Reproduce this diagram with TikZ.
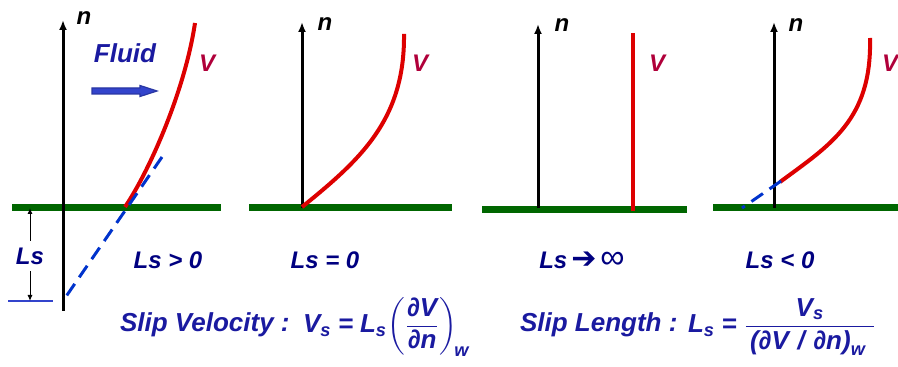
\documentclass[tikz,border=0pt]{standalone}
\usepackage{amsmath}
\usepackage{fontspec}
\setmainfont{Liberation Sans}
\newfontfamily\arrowfont{DejaVu Sans}
\usepackage{tikz}
\usetikzlibrary{arrows.meta}
\definecolor{wallgreen}{HTML}{006600}
\definecolor{profred}{HTML}{DD0000}
\definecolor{vcolor}{HTML}{B0003A}
\definecolor{slipblue}{HTML}{0033CC}
\definecolor{labelnavy}{HTML}{000080}
\definecolor{textblue}{HTML}{1A1AA0}
\definecolor{fluidfill}{HTML}{3344CC}

\begin{document}
\begin{tikzpicture}[x=0.5pt,y=-0.5pt,
    lbl/.style={font=\fontsize{12}{14}\selectfont\bfseries\itshape},
    bigtext/.style={font=\fontsize{13}{15}\selectfont\bfseries\itshape,textblue,anchor=west},
    naxis/.style={-{Latex[length=5pt,width=4pt]},line width=1.5pt},
    wall/.style={wallgreen,line width=3.5pt},
    profile/.style={profred,line width=2pt},
    slipline/.style={slipblue,line width=1.5pt,dash pattern=on 7pt off 4pt},
    dimarrow/.style={-{Latex[length=3pt,width=2.5pt]},line width=0.5pt}]
    \useasboundingbox (0,0) rectangle (898,367);

    % panel 1: Ls > 0
    \coordinate (w1a) at (12,208);
    \coordinate (w1b) at (221,208);
    \draw[wall] (w1a) -- (w1b);
    \coordinate (a1) at (63,311);
    \coordinate (t1) at (63,20);
    \draw[naxis] (a1) -- (t1);
    \node[lbl] (n1) at (84,18) {n};
    \draw[profile] (125,207) .. controls (150,170) and (185,90) .. (195,23);
    \node[lbl,vcolor] (v1) at (207,63) {V};
    \coordinate (s1a) at (65,298);
    \coordinate (s1b) at (162,157);
    \draw[slipline] (s1b) -- (s1a);
    \node[lbl,textblue,font=\fontsize{13}{15}\selectfont\bfseries\itshape] (fluid) at (125,53) {Fluid};
    \draw[fluidfill!80!black,line width=0.6pt,fill=fluidfill]
      (92,88) -- (140,88) -- (140,85.5) -- (157,91) -- (140,96.5) -- (140,94) -- (92,94) -- cycle;
    \node[lbl,labelnavy] (ls1) at (30,256) {Ls};
    \coordinate (lsbase) at (29,301);
    \draw[fluidfill,line width=0.6pt] (8,301) -- (53,301);
    \draw[dimarrow] (ls1.north) -- (ls1.north |- w1a);
    \draw[dimarrow] (ls1.south) -- (ls1.south |- lsbase);
    \node[lbl,labelnavy] (c1) at (168,260) {Ls > 0};

    % panel 2: Ls = 0
    \coordinate (w2a) at (249,208);
    \coordinate (w2b) at (452,208);
    \draw[wall] (w2a) -- (w2b);
    \coordinate (a2) at (302,208);
    \coordinate (t2) at (302,22);
    \draw[naxis] (a2) -- (t2);
    \node[lbl] (n2) at (325,24) {n};
    \draw[profile] (302,207) .. controls (360,160) and (405,120) .. (404,34);
    \node[lbl,vcolor] (v2) at (420,63) {V};
    \node[lbl,labelnavy] (c2) at (325,260) {Ls = 0};

    % panel 3: Ls -> infinity
    \coordinate (w3a) at (482,210);
    \coordinate (w3b) at (687,210);
    \draw[wall] (w3a) -- (w3b);
    \coordinate (a3) at (538,208);
    \coordinate (t3) at (538,24);
    \draw[naxis] (a3) -- (t3);
    \node[lbl] (n3) at (562,25) {n};
    \coordinate (p3a) at (633,211);
    \coordinate (p3b) at (633,33);
    \draw[profile] (p3a) -- (p3b);
    \node[lbl,vcolor] (v3) at (657,63) {V};
    \node[lbl,labelnavy] (c3) at (582,260) {Ls\,{\arrowfont\bfseries\upshape\fontsize{15}{15}\selectfont ➔}\,{\upshape\mdseries\fontsize{17}{15}\selectfont ∞}};

    % panel 4: Ls < 0
    \coordinate (w4a) at (713,208);
    \coordinate (w4b) at (898,208);
    \draw[wall] (w4a) -- (w4b);
    \coordinate (a4) at (774,208);
    \coordinate (t4) at (774,22);
    \draw[naxis] (a4) -- (t4);
    \node[lbl] (n4) at (796,25) {n};
    \draw[profile] (780,182) .. controls (830,145) and (872,120) .. (870,38);
    \coordinate (s4a) at (742,208);
    \coordinate (s4b) at (781,181);
    \draw[slipline] (s4b) -- (s4a);
    \node[lbl,vcolor] (v4) at (890,63) {V};
    \node[lbl,labelnavy] (c4) at (780,260) {Ls < 0};

    % definitions
    \node[bigtext] (slipv) at (113,325) {Slip Velocity :};
    \node[bigtext] (vsform) at (296,327) {$\text{V}_{\text{s}} \mathrel{\text{=}} \text{L}_{\text{s}}\biggl(\dfrac{\text{∂V}}{\text{∂n}}\biggr)_{\!\text{w}}$};
    \node[bigtext] (slipl) at (513,325) {Slip Length :};
    \node[bigtext] (lsform) at (681,327) {$\text{L}_{\text{s}} \mathrel{\text{=}} \dfrac{\text{V}_{\text{s}}}{\,\text{(∂V\,\,/\,\,∂n)}_{\text{w}}\,\,}$};
  \end{tikzpicture}
\end{document}
